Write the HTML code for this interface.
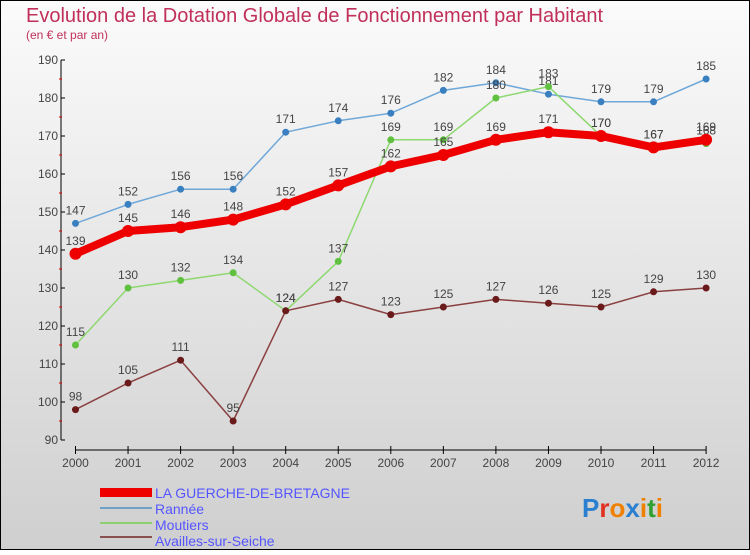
<!DOCTYPE html>
<html><head><meta charset="utf-8"><style>
body{margin:0;width:750px;height:550px;overflow:hidden;font-family:"Liberation Sans",sans-serif}
svg text{font-family:"Liberation Sans",sans-serif}
</style></head><body>
<svg id="c" width="750" height="550" xmlns="http://www.w3.org/2000/svg">
<defs><linearGradient id="bg" x1="0" y1="0" x2="0" y2="1"><stop offset="0" stop-color="#fbfbfb"/><stop offset="1" stop-color="#cfcfcf"/></linearGradient></defs>
<rect x="0.5" y="0.5" width="749" height="549" fill="url(#bg)" stroke="#000"/>
<text x="26" y="22" font-size="20" fill="#c0305a">Evolution de la Dotation Globale de Fonctionnement par Habitant</text>
<text x="26" y="39" font-size="12" fill="#c0305a">(en € et par an)</text>
<g id="axes"></g><g id="series"></g>
<g>
<rect x="100" y="488" width="52" height="9" fill="#e00"/>
<text x="155" y="498" font-size="14" fill="#5555ff">LA GUERCHE-DE-BRETAGNE</text>
<line x1="100" y1="508" x2="152" y2="508" stroke="#6fa0c8" stroke-width="2"/>
<text x="155" y="514" font-size="14" fill="#5555ff">Rannée</text>
<line x1="100" y1="523" x2="152" y2="523" stroke="#8ed070" stroke-width="2"/>
<text x="155" y="530" font-size="14" fill="#5555ff">Moutiers</text>
<line x1="100" y1="537" x2="152" y2="537" stroke="#8a5050" stroke-width="2"/>
<text x="155" y="546" font-size="14" fill="#5555ff">Availles-sur-Seiche</text>
</g>
<text x="582" y="517" font-size="26" font-weight="bold"><tspan fill="#2a7fd0">P</tspan><tspan fill="#e03020">r</tspan><tspan fill="#f08000">o</tspan><tspan fill="#2a7fd0">x</tspan><tspan fill="#f08000">i</tspan><tspan fill="#30a030">t</tspan><tspan fill="#f08000">i</tspan></text>
</svg>
<script>
const years=[2000,2001,2002,2003,2004,2005,2006,2007,2008,2009,2010,2011,2012];
const yTicks=[90,100,110,120,130,140,150,160,170,180,190];
const guerche=[139,145,146,148,152,157,162,165,169,171,170,167,169];
const rannee=[147,152,156,156,171,174,176,182,184,181,179,179,185];
const moutiers=[115,130,132,134,124,137,169,169,180,183,170,167,168];
const availles=[98,105,111,95,124,127,123,125,127,126,125,129,130];
const NS="http://www.w3.org/2000/svg";
const xS=i=>75.5+i*52.55;
const yS=v=>440-(v-90)*3.8;
function mk(tag,attrs,parent,txt){const e=document.createElementNS(NS,tag);for(const k in attrs)e.setAttribute(k,attrs[k]);if(txt!==undefined)e.textContent=txt;parent.appendChild(e);return e;}
const ax=document.getElementById('axes');
let yl=mk('line',{x1:61,y1:60,x2:61,y2:440,stroke:'#000'},ax);


yTicks.forEach((t,i)=>{
  mk('line',{x1:61,y1:yS(t),x2:65,y2:yS(t),stroke:'#000'},ax);
  if(i<yTicks.length-1)mk('line',{x1:59,y1:yS(t+5),x2:62,y2:yS(t+5),stroke:'#d00'},ax);
  let tx=mk('text',{x:58,y:yS(t)+4,'font-size':12,fill:'#444','text-anchor':'end'},ax,t);
  
  
});
let xl=mk('line',{x1:xS(0),y1:450,x2:xS(12),y2:450,stroke:'#000'},ax);


years.forEach((y,i)=>{
  mk('line',{x1:xS(i),y1:446,x2:xS(i),y2:454,stroke:'#000'},ax);
  let tx=mk('text',{x:xS(i),y:467,'font-size':12,fill:'#444','text-anchor':'middle'},ax,y);
  
  
});
const sg=document.getElementById('series');
function series(name,data,color,dot,w,r){
  const g=mk('g',{},sg);
  
  
  mk('polyline',{points:data.map((v,i)=>xS(i)+','+yS(v)).join(' '),fill:'none',stroke:color,'stroke-width':w,'stroke-linejoin':'round'},g);
  data.forEach((v,i)=>{
    const c=mk('circle',{cx:xS(i),cy:yS(v),r:r,fill:dot},g);
    
    
    const t=mk('text',{x:xS(i),y:yS(v)-9,'font-size':12,fill:'#444','text-anchor':'middle'},g,v);
    
    
  });
}
series('rannee',rannee,'#6fa8d8','#3a80c0',1.5,3.5);
series('moutiers',moutiers,'#8ed870','#60c040',1.5,3.5);
series('availles',availles,'#8a4040','#6a1a1a',1.5,3.5);
series('guerche',guerche,'#ee0000','#ee0000',8,6);
</script>
</body></html>
